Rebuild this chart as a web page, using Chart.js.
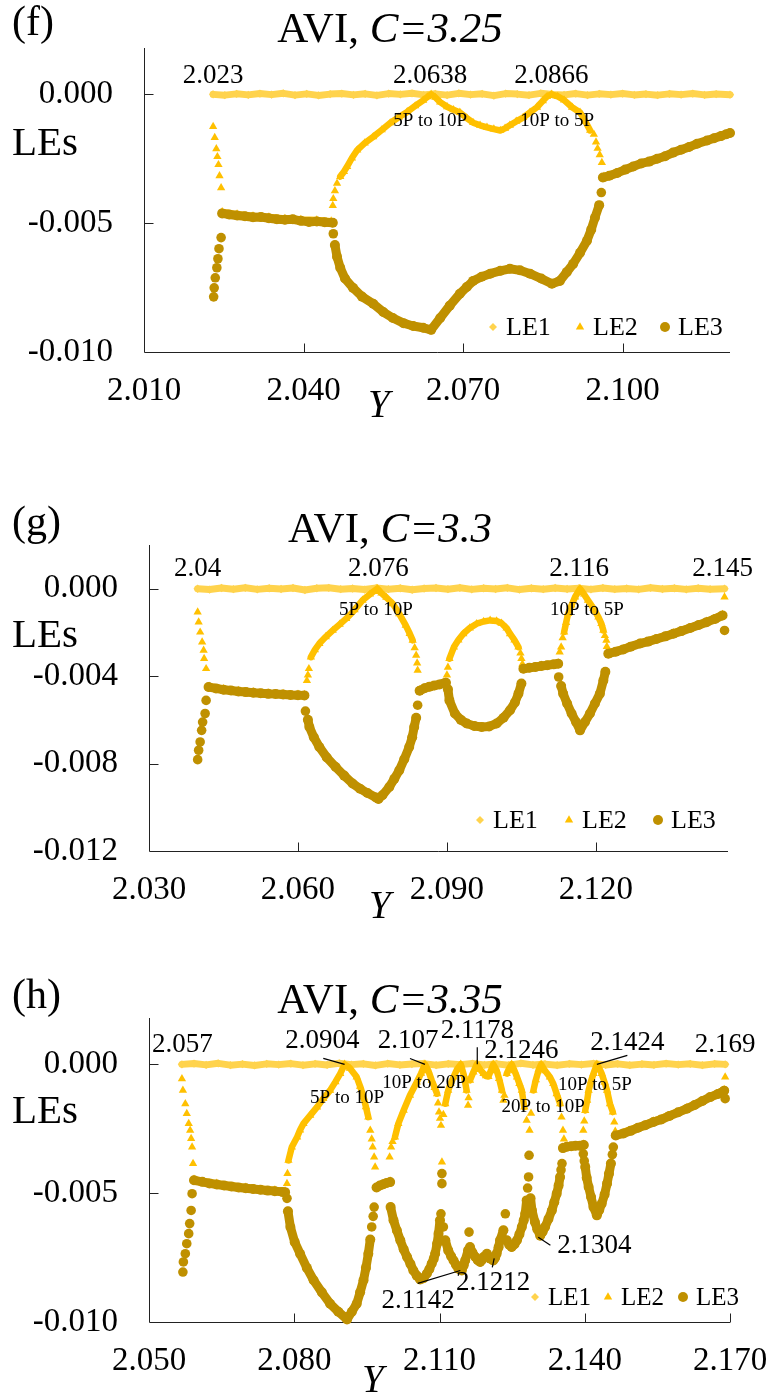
<!DOCTYPE html>
<html>
<head>
<meta charset="utf-8">
<script src="https://cdn.jsdelivr.net/npm/chart.js@4.4.0/dist/chart.umd.min.js"></script>
<style>
  html, body { margin: 0; padding: 0; background: #fff; }
  .panel { position: absolute; left: 0; width: 773px; height: 465px; }
  canvas { display: block; }
</style>
</head>
<body>
<div class="panel" style="top:0px"><canvas id="chartF" width="773" height="465"></canvas></div>
<div class="panel" style="top:465px"><canvas id="chartG" width="773" height="465"></canvas></div>
<div class="panel" style="top:930px"><canvas id="chartH" width="773" height="465"></canvas></div>
<script>
// ---- tick values ----
const fXTicks = [2.010, 2.040, 2.070, 2.100];
const fYTicks = [-0.010, -0.005, 0.000];
const gXTicks = [2.030, 2.060, 2.090, 2.120];
const gYTicks = [-0.012, -0.008, -0.004, 0.000];
const hXTicks = [2.050, 2.080, 2.110, 2.140, 2.170];
const hYTicks = [-0.010, -0.005, 0.000];

// ---- panel (f), C=3.25 : [Y, LE] ; null = break in the line ----
const fLE1 = [[2.0230,0.00000],[2.0252,-0.00003],[2.0274,0.00002],[2.0296,-0.00002],[2.0318,0.00003],[2.0340,-0.00001],[2.0362,0.00004],[2.0384,-0.00003],[2.0406,0.00002],[2.0428,-0.00004],[2.0450,0.00001],[2.0472,0.00003],[2.0494,-0.00002],[2.0516,0.00002],[2.0538,-0.00004],[2.0560,0.00003],[2.0582,0.00000],[2.0604,0.00004],[2.0626,-0.00002],[2.0648,0.00002],[2.0670,-0.00003],[2.0692,0.00004],[2.0714,-0.00001],[2.0736,0.00002],[2.0758,-0.00005],[2.0780,0.00003],[2.0802,0.00001],[2.0824,-0.00003],[2.0846,0.00004],[2.0868,0.00000],[2.0890,-0.00002],[2.0912,0.00003],[2.0934,-0.00003],[2.0956,0.00002],[2.0978,-0.00001],[2.1000,0.00003],[2.1022,-0.00002],[2.1044,0.00001],[2.1066,-0.00003],[2.1088,0.00002],[2.1110,-0.00001],[2.1132,0.00003],[2.1154,-0.00002],[2.1176,0.00001],[2.1202,-0.00001]];
const fLE2 = [
  [2.0247,-0.00456],[2.0275,-0.00465],[2.0305,-0.00472],[2.0335,-0.00476],[2.0365,-0.00482],[2.0395,-0.00486],[2.0425,-0.00488],[2.0452,-0.00492], null,
  [2.0469,-0.00319],[2.0476,-0.00300],[2.0482,-0.00280],[2.0491,-0.00247],[2.0501,-0.00216],[2.0515,-0.00189],[2.0531,-0.00165],[2.0547,-0.00138],[2.0563,-0.00111],[2.0579,-0.00089],[2.0595,-0.00068],[2.0610,-0.00045],[2.0625,-0.00023],[2.0633,-0.00010],[2.0640,0.00000],
  [2.0648,-0.00012],[2.0657,-0.00030],[2.0670,-0.00048],[2.0682,-0.00060],[2.0694,-0.00070],[2.0707,-0.00092],[2.0719,-0.00110],[2.0732,-0.00120],[2.0745,-0.00128],[2.0758,-0.00135],[2.0770,-0.00140],[2.0779,-0.00132],[2.0788,-0.00120],[2.0800,-0.00105],[2.0813,-0.00090],[2.0826,-0.00070],[2.0839,-0.00050],[2.0850,-0.00025],[2.0858,-0.00008],[2.0866,0.00000],[2.0878,-0.00008],[2.0890,-0.00022],[2.0905,-0.00050],[2.0920,-0.00070],[2.0930,-0.00105],[2.0939,-0.00140], null,
  [2.0965,-0.00318],[2.1050,-0.00261],[2.1125,-0.00204],[2.1202,-0.00150]
];
const fLE2Sparse = [[2.0230,-0.00125],[2.0233,-0.00168],[2.0236,-0.00211],[2.0238,-0.00242],[2.0240,-0.00273],[2.0242,-0.00316],[2.0245,-0.00363],[2.0455,-0.00432],[2.0456,-0.00405],[2.0459,-0.00374],[2.0463,-0.00345],[2.0946,-0.00155],[2.0950,-0.00185],[2.0953,-0.00210],[2.0957,-0.00235],[2.0961,-0.00265]];
const fLE3 = [
  [2.0247,-0.00462],[2.0260,-0.00466],[2.0275,-0.00470],[2.0290,-0.00473],[2.0305,-0.00477],[2.0320,-0.00476],[2.0335,-0.00481],[2.0350,-0.00485],[2.0365,-0.00487],[2.0380,-0.00485],[2.0395,-0.00491],[2.0410,-0.00495],[2.0425,-0.00493],[2.0440,-0.00496],[2.0455,-0.00498], null,
  [2.0459,-0.00585],[2.0463,-0.00630],[2.0469,-0.00673],[2.0478,-0.00715],[2.0493,-0.00751],[2.0510,-0.00785],[2.0531,-0.00813],[2.0550,-0.00845],[2.0568,-0.00868],[2.0588,-0.00888],[2.0606,-0.00899],[2.0625,-0.00906],[2.0640,-0.00914],
  [2.0657,-0.00868],[2.0675,-0.00820],[2.0694,-0.00774],[2.0707,-0.00748],[2.0719,-0.00724],[2.0735,-0.00708],[2.0751,-0.00696],[2.0770,-0.00685],[2.0788,-0.00677],[2.0807,-0.00683],[2.0826,-0.00696],[2.0847,-0.00715],[2.0867,-0.00735],[2.0882,-0.00724],[2.0895,-0.00690],[2.0907,-0.00658],[2.0920,-0.00615],[2.0933,-0.00568],[2.0941,-0.00525],[2.0948,-0.00479],[2.0956,-0.00430], null,
  [2.0963,-0.00323],[2.0975,-0.00316],[2.0990,-0.00305],[2.1005,-0.00292],[2.1020,-0.00280],[2.1035,-0.00268],[2.1050,-0.00261],[2.1065,-0.00250],[2.1080,-0.00240],[2.1095,-0.00226],[2.1110,-0.00215],[2.1125,-0.00204],[2.1140,-0.00192],[2.1159,-0.00179],[2.1172,-0.00170],[2.1185,-0.00162],[2.1195,-0.00155],[2.1202,-0.00150]
];
const fLE3Sparse = [[2.0231,-0.00786],[2.0232,-0.00751],[2.0234,-0.00712],[2.0237,-0.00673],[2.0239,-0.00638],[2.0241,-0.00599],[2.0245,-0.00556],[2.0456,-0.00541],[2.0960,-0.00381]];

// ---- panel (g), C=3.3 ----
const gLE1 = [[2.0398,0.00000],[2.0422,-0.00004],[2.0446,0.00003],[2.0470,-0.00002],[2.0494,0.00004],[2.0518,-0.00003],[2.0542,0.00002],[2.0566,-0.00001],[2.0590,0.00003],[2.0614,-0.00006],[2.0638,0.00002],[2.0662,0.00004],[2.0686,-0.00002],[2.0710,0.00001],[2.0734,-0.00004],[2.0758,0.00003],[2.0782,-0.00002],[2.0806,0.00002],[2.0830,-0.00005],[2.0854,0.00001],[2.0878,0.00003],[2.0902,-0.00002],[2.0926,0.00004],[2.0950,-0.00003],[2.0974,0.00002],[2.0998,-0.00001],[2.1022,0.00004],[2.1046,-0.00004],[2.1070,0.00002],[2.1094,-0.00002],[2.1118,0.00003],[2.1142,-0.00001],[2.1166,0.00002],[2.1190,-0.00003],[2.1214,0.00003],[2.1238,-0.00002],[2.1262,0.00001],[2.1286,-0.00003],[2.1310,0.00004],[2.1334,-0.00001],[2.1358,0.00002],[2.1382,-0.00003],[2.1406,0.00002],[2.1430,-0.00002],[2.1459,0.00000]];
const gLE2 = [
  [2.0421,-0.00446],[2.0450,-0.00458],[2.0480,-0.00466],[2.0510,-0.00472],[2.0540,-0.00477],[2.0570,-0.00480],[2.0600,-0.00483],[2.0613,-0.00484], null,
  [2.0626,-0.00313],[2.0634,-0.00280],[2.0643,-0.00251],[2.0656,-0.00220],[2.0670,-0.00191],[2.0684,-0.00163],[2.0697,-0.00137],[2.0714,-0.00097],[2.0730,-0.00053],[2.0745,-0.00025],[2.0760,0.00000],[2.0768,-0.00020],[2.0778,-0.00040],[2.0791,-0.00069],[2.0804,-0.00115],[2.0817,-0.00168],[2.0825,-0.00205],[2.0831,-0.00236], null,
  [2.0845,-0.00463],[2.0870,-0.00442],[2.0898,-0.00426], null,
  [2.0905,-0.00320],[2.0914,-0.00267],[2.0923,-0.00235],[2.0933,-0.00206],[2.0946,-0.00180],[2.0960,-0.00160],[2.0974,-0.00150],[2.0987,-0.00145],[2.1000,-0.00148],[2.1010,-0.00158],[2.1020,-0.00180],[2.1027,-0.00206],[2.1036,-0.00235],[2.1044,-0.00267], null,
  [2.1054,-0.00362],[2.1090,-0.00350],[2.1124,-0.00339], null,
  [2.1136,-0.00198],[2.1140,-0.00155],[2.1144,-0.00114],[2.1151,-0.00075],[2.1158,-0.00038],[2.1168,0.00000],[2.1176,-0.00025],[2.1184,-0.00053],[2.1195,-0.00090],[2.1205,-0.00130],[2.1211,-0.00160],[2.1215,-0.00191], null,
  [2.1225,-0.00293],[2.1289,-0.00247],[2.1356,-0.00202],[2.1423,-0.00149],[2.1455,-0.00118]
];
const gLE2Sparse = [[2.0398,-0.00107],[2.0400,-0.00153],[2.0403,-0.00199],[2.0407,-0.00244],[2.0410,-0.00282],[2.0411,-0.00320],[2.0415,-0.00366],[2.0618,-0.00420],[2.0620,-0.00395],[2.0622,-0.00366],[2.0835,-0.00270],[2.0838,-0.00305],[2.0840,-0.00340],[2.0841,-0.00373],[2.0900,-0.00395],[2.0902,-0.00360],[2.1048,-0.00295],[2.1050,-0.00320],[2.1052,-0.00345],[2.1127,-0.00290],[2.1130,-0.00267],[2.1133,-0.00225],[2.1218,-0.00215],[2.1221,-0.00236],[2.1222,-0.00265],[2.1459,-0.00038]];
const gLE3 = [
  [2.0420,-0.00450],[2.0435,-0.00456],[2.0450,-0.00462],[2.0465,-0.00466],[2.0480,-0.00470],[2.0495,-0.00473],[2.0510,-0.00476],[2.0525,-0.00478],[2.0540,-0.00481],[2.0555,-0.00482],[2.0570,-0.00484],[2.0585,-0.00486],[2.0600,-0.00487],[2.0613,-0.00488], null,
  [2.0620,-0.00600],[2.0623,-0.00633],[2.0632,-0.00680],[2.0643,-0.00724],[2.0658,-0.00772],[2.0676,-0.00816],[2.0693,-0.00855],[2.0710,-0.00891],[2.0725,-0.00915],[2.0740,-0.00935],[2.0757,-0.00955],[2.0762,-0.00962],[2.0770,-0.00945],[2.0784,-0.00907],[2.0794,-0.00870],[2.0804,-0.00831],[2.0814,-0.00780],[2.0824,-0.00724],[2.0830,-0.00680],[2.0834,-0.00633],[2.0838,-0.00590], null,
  [2.0845,-0.00467],[2.0855,-0.00455],[2.0865,-0.00448],[2.0875,-0.00443],[2.0885,-0.00438],[2.0895,-0.00432],[2.0898,-0.00430], null,
  [2.0902,-0.00460],[2.0905,-0.00511],[2.0916,-0.00571],[2.0928,-0.00600],[2.0940,-0.00617],[2.0955,-0.00628],[2.0970,-0.00633],[2.0985,-0.00630],[2.1000,-0.00617],[2.1014,-0.00590],[2.1027,-0.00556],[2.1037,-0.00520],[2.1044,-0.00480],[2.1050,-0.00434], null,
  [2.1054,-0.00366],[2.1066,-0.00362],[2.1078,-0.00358],[2.1090,-0.00354],[2.1102,-0.00350],[2.1115,-0.00346],[2.1124,-0.00343], null,
  [2.1130,-0.00445],[2.1134,-0.00480],[2.1142,-0.00525],[2.1151,-0.00571],[2.1160,-0.00610],[2.1168,-0.00648],[2.1178,-0.00610],[2.1188,-0.00571],[2.1198,-0.00525],[2.1208,-0.00480],[2.1215,-0.00420],[2.1219,-0.00380], null,
  [2.1225,-0.00297],[2.1240,-0.00288],[2.1255,-0.00278],[2.1270,-0.00265],[2.1289,-0.00251],[2.1305,-0.00242],[2.1322,-0.00230],[2.1340,-0.00218],[2.1356,-0.00206],[2.1372,-0.00194],[2.1390,-0.00180],[2.1407,-0.00166],[2.1423,-0.00153],[2.1440,-0.00138],[2.1455,-0.00122]
];
const gLE3Sparse = [[2.0398,-0.00782],[2.0400,-0.00739],[2.0403,-0.00701],[2.0406,-0.00648],[2.0408,-0.00610],[2.0413,-0.00571],[2.0415,-0.00511],[2.0615,-0.00560],[2.0841,-0.00533],[2.1125,-0.00404],[2.1459,-0.00191]];

// ---- panel (h), C=3.35 ----
const hLE1 = [[2.0568,0.00000],[2.0593,0.00003],[2.0618,-0.00002],[2.0643,0.00004],[2.0668,-0.00003],[2.0693,0.00001],[2.0718,-0.00004],[2.0743,0.00002],[2.0768,-0.00001],[2.0793,0.00003],[2.0818,-0.00003],[2.0843,0.00002],[2.0868,-0.00002],[2.0893,0.00004],[2.0918,-0.00001],[2.0943,0.00002],[2.0968,-0.00004],[2.0993,0.00003],[2.1018,-0.00002],[2.1043,0.00001],[2.1068,0.00003],[2.1093,-0.00003],[2.1118,0.00002],[2.1143,-0.00001],[2.1168,0.00003],[2.1193,-0.00002],[2.1218,0.00002],[2.1243,-0.00003],[2.1268,0.00004],[2.1293,-0.00002],[2.1318,0.00001],[2.1343,-0.00003],[2.1368,0.00002],[2.1393,-0.00001],[2.1418,0.00003],[2.1443,-0.00002],[2.1468,0.00002],[2.1493,-0.00003],[2.1518,0.00001],[2.1543,-0.00002],[2.1568,0.00003],[2.1593,-0.00001],[2.1618,0.00002],[2.1643,-0.00003],[2.1668,0.00002],[2.1690,0.00000]];
const hLE2 = [
  [2.0593,-0.00446],[2.0640,-0.00462],[2.0700,-0.00477],[2.0760,-0.00488],[2.0781,-0.00492], null,
  [2.0788,-0.00373],[2.0795,-0.00321],[2.0806,-0.00282],[2.0812,-0.00255],[2.0819,-0.00230],[2.0833,-0.00198],[2.0847,-0.00166],[2.0860,-0.00133],[2.0874,-0.00101],[2.0885,-0.00068],[2.0895,-0.00036],[2.0904,0.00000],[2.0915,-0.00015],[2.0929,-0.00049],[2.0936,-0.00085],[2.0943,-0.00127],[2.0948,-0.00165],[2.0953,-0.00205], null,
  [2.0970,-0.00474],[2.0998,-0.00453], null,
  [2.1008,-0.00282],[2.1015,-0.00230],[2.1026,-0.00178],[2.1039,-0.00120],[2.1053,-0.00069],[2.1062,-0.00035],[2.1070,0.00000],[2.1077,-0.00025],[2.1084,-0.00062],[2.1090,-0.00090],[2.1095,-0.00114], null,
  [2.1112,-0.00153],[2.1118,-0.00101],[2.1123,-0.00075],[2.1129,-0.00049],[2.1136,-0.00020],[2.1144,0.00000],[2.1150,-0.00040],[2.1156,-0.00101], null,
  [2.1163,-0.00062],[2.1170,-0.00030],[2.1177,0.00000],[2.1184,-0.00020],[2.1191,-0.00036],[2.1196,-0.00045],[2.1201,-0.00047],[2.1206,-0.00025],[2.1211,0.00000],[2.1218,-0.00023],[2.1223,-0.00055],[2.1229,-0.00101], null,
  [2.1239,-0.00036],[2.1244,-0.00015],[2.1249,0.00000],[2.1255,-0.00025],[2.1260,-0.00049],[2.1265,-0.00075],[2.1270,-0.00101],[2.1275,-0.00166], null,
  [2.1294,-0.00101],[2.1299,-0.00060],[2.1305,-0.00020],[2.1310,0.00000],[2.1318,-0.00025],[2.1328,-0.00049],[2.1335,-0.00075],[2.1342,-0.00114],[2.1349,-0.00153], null,
  [2.1355,-0.00321],[2.1398,-0.00309], null,
  [2.1401,-0.00179],[2.1405,-0.00140],[2.1408,-0.00101],[2.1413,-0.00065],[2.1418,-0.00036],[2.1425,0.00000],[2.1430,-0.00015],[2.1435,-0.00036],[2.1441,-0.00070],[2.1446,-0.00101],[2.1452,-0.00153],[2.1458,-0.00185], null,
  [2.1464,-0.00272],[2.1542,-0.00220],[2.1611,-0.00168],[2.1688,-0.00098]
];
const hLE2Sparse = [[2.0568,-0.00056],[2.0570,-0.00101],[2.0575,-0.00153],[2.0578,-0.00191],[2.0582,-0.00230],[2.0585,-0.00256],[2.0587,-0.00288],[2.0589,-0.00321],[2.0591,-0.00385],[2.0785,-0.00463],[2.0786,-0.00424],[2.0957,-0.00256],[2.0960,-0.00290],[2.0962,-0.00321],[2.0965,-0.00360],[2.0967,-0.00399],[2.0997,-0.00360],[2.1000,-0.00321],[2.1003,-0.00300],[2.1097,-0.00150],[2.1099,-0.00185],[2.1101,-0.00210],[2.1103,-0.00237],[2.1105,-0.00379],[2.1108,-0.00195],[2.1159,-0.00159],[2.1160,-0.00130],[2.1232,-0.00140],[2.1234,-0.00120],[2.1280,-0.00217],[2.1284,-0.00353],[2.1286,-0.00256],[2.1289,-0.00190],[2.1352,-0.00205],[2.1355,-0.00256],[2.1357,-0.00290],[2.1397,-0.00256],[2.1399,-0.00220],[2.1461,-0.00224],[2.1463,-0.00260],[2.1690,-0.00049]];
const hLE3 = [
  [2.0593,-0.00450],[2.0610,-0.00456],[2.0625,-0.00462],[2.0640,-0.00466],[2.0655,-0.00470],[2.0670,-0.00474],[2.0685,-0.00478],[2.0700,-0.00481],[2.0715,-0.00484],[2.0730,-0.00487],[2.0745,-0.00490],[2.0760,-0.00492],[2.0775,-0.00495],[2.0781,-0.00496], null,
  [2.0787,-0.00570],[2.0792,-0.00631],[2.0801,-0.00690],[2.0812,-0.00735],[2.0826,-0.00790],[2.0840,-0.00838],[2.0857,-0.00885],[2.0874,-0.00929],[2.0891,-0.00960],[2.0909,-0.00990],[2.0919,-0.00960],[2.0929,-0.00929],[2.0936,-0.00885],[2.0943,-0.00838],[2.0948,-0.00790],[2.0953,-0.00735],[2.0957,-0.00680], null,
  [2.0970,-0.00478],[2.0977,-0.00470],[2.0984,-0.00465],[2.0991,-0.00460],[2.0998,-0.00457], null,
  [2.0999,-0.00554],[2.1005,-0.00605],[2.1012,-0.00645],[2.1019,-0.00683],[2.1026,-0.00718],[2.1033,-0.00748],[2.1040,-0.00775],[2.1046,-0.00800],[2.1053,-0.00820],[2.1060,-0.00835],[2.1067,-0.00830],[2.1074,-0.00812],[2.1079,-0.00795],[2.1084,-0.00773],[2.1088,-0.00755],[2.1091,-0.00735],[2.1095,-0.00696],[2.1098,-0.00657],[2.1101,-0.00605], null,
  [2.1112,-0.00683],[2.1118,-0.00722],[2.1124,-0.00745],[2.1129,-0.00761],[2.1134,-0.00778],[2.1139,-0.00793],[2.1146,-0.00800],[2.1150,-0.00780],[2.1153,-0.00761],[2.1159,-0.00722], null,
  [2.1163,-0.00709],[2.1168,-0.00730],[2.1174,-0.00748],[2.1179,-0.00760],[2.1184,-0.00767],[2.1188,-0.00758],[2.1191,-0.00748],[2.1198,-0.00735],[2.1205,-0.00754],[2.1211,-0.00761],[2.1215,-0.00750],[2.1218,-0.00735],[2.1222,-0.00710],[2.1225,-0.00683],[2.1232,-0.00644], null,
  [2.1239,-0.00683],[2.1244,-0.00700],[2.1249,-0.00709],[2.1255,-0.00698],[2.1260,-0.00683],[2.1265,-0.00660],[2.1270,-0.00631],[2.1274,-0.00605],[2.1277,-0.00580],[2.1280,-0.00528], null,
  [2.1288,-0.00520],[2.1291,-0.00567],[2.1297,-0.00612],[2.1302,-0.00640],[2.1308,-0.00665],[2.1313,-0.00650],[2.1318,-0.00631],[2.1325,-0.00600],[2.1332,-0.00567],[2.1337,-0.00535],[2.1342,-0.00502],[2.1346,-0.00470],[2.1349,-0.00437], null,
  [2.1355,-0.00325],[2.1363,-0.00320],[2.1372,-0.00318],[2.1381,-0.00316],[2.1390,-0.00316],[2.1398,-0.00313], null,
  [2.1401,-0.00398],[2.1404,-0.00440],[2.1408,-0.00476],[2.1413,-0.00515],[2.1418,-0.00554],[2.1425,-0.00586],[2.1430,-0.00565],[2.1435,-0.00541],[2.1441,-0.00505],[2.1446,-0.00463],[2.1450,-0.00425],[2.1454,-0.00385], null,
  [2.1464,-0.00276],[2.1480,-0.00268],[2.1495,-0.00258],[2.1510,-0.00246],[2.1525,-0.00236],[2.1542,-0.00224],[2.1558,-0.00214],[2.1575,-0.00200],[2.1593,-0.00186],[2.1611,-0.00172],[2.1627,-0.00158],[2.1643,-0.00142],[2.1659,-0.00127],[2.1675,-0.00115],[2.1688,-0.00102]
];
const hLE3Sparse = [[2.0570,-0.00806],[2.0571,-0.00767],[2.0575,-0.00735],[2.0578,-0.00696],[2.0582,-0.00657],[2.0584,-0.00618],[2.0587,-0.00567],[2.0589,-0.00502],[2.0785,-0.00520],[2.0960,-0.00631],[2.0963,-0.00590],[2.0965,-0.00554],[2.1103,-0.00580],[2.1105,-0.00463],[2.1105,-0.00424],[2.1108,-0.00631],[2.1161,-0.00651],[2.1236,-0.00580],[2.1282,-0.00480],[2.1284,-0.00437],[2.1285,-0.00353],[2.1351,-0.00410],[2.1353,-0.00385],[2.1397,-0.00347],[2.1399,-0.00375],[2.1457,-0.00350],[2.1459,-0.00321],[2.1690,-0.00133]];

// ---- labels in data coordinates: [text, Y, LE, kind] ----
const fNotes = [['2.023',2.0230,0.00043,'v'],['2.0638',2.0638,0.00043,'v'],['2.0866',2.0866,0.00043,'v'],['5P to 10P',2.0638,-0.00121,'t'],['10P to 5P',2.0877,-0.00121,'t']];
const gNotes = [['2.04',2.0398,0.00059,'v'],['2.076',2.0762,0.00059,'v'],['2.116',2.1166,0.00059,'v'],['2.145',2.1455,0.00059,'v'],['5P to 10P',2.0757,-0.00122,'t'],['10P to 5P',2.1182,-0.00122,'t']];
const hNotes = [['2.057',2.0569,0.00047,'v'],['2.0904',2.0858,0.00062,'v'],['2.107',2.1035,0.00062,'v'],['2.1178',2.1178,0.00101,'v'],['2.1246',2.1269,0.00023,'v'],['2.1424',2.1488,0.00054,'v'],['2.169',2.1690,0.00047,'v'],
  ['5P to 10P',2.0909,-0.00151,'t'],['10P to 20P',2.1068,-0.00093,'t'],['20P to 10P',2.1314,-0.00186,'t'],['10P to 5P',2.1421,-0.00101,'t'],
  ['2.1142',2.1056,-0.00947,'v'],['2.1212',2.1211,-0.00877,'v'],['2.1304',2.1343,-0.00733,'vl']];
// leader lines: [Y1, LE1, Y2, LE2]
const hLeaders = [[2.0860,0.00023,2.0904,0.00000],[2.1039,0.00023,2.1070,0.00000],[2.1178,0.00066,2.1178,0.00000],[2.1488,0.00035,2.1425,0.00000],[2.1055,-0.00850,2.1143,-0.00800],[2.1209,-0.00788,2.1213,-0.00753],[2.1329,-0.00702,2.1304,-0.00671]];

const COL1 = '#FFD34D', COL2 = '#FFC000', COL3 = '#BF9000';
const SERIF = '"Liberation Serif", "Times New Roman", serif';

function pts(arr) {
  const out = [];
  let lastX = null;
  arr.forEach(p => {
    if (p === null) out.push({x: lastX, y: null});
    else { lastX = p[0]; out.push({x: p[0], y: p[1]}); }
  });
  return out;
}

function marker(ctx, kind, x, y) {
  ctx.beginPath();
  if (kind === 'diamond') {
    const r = 4;
    ctx.moveTo(x, y - r); ctx.lineTo(x + r, y); ctx.lineTo(x, y + r); ctx.lineTo(x - r, y);
  } else if (kind === 'triangle') {
    const r = 4.8;
    ctx.moveTo(x, y - r); ctx.lineTo(x + r * 0.87, y + r * 0.5); ctx.lineTo(x - r * 0.87, y + r * 0.5);
  } else {
    ctx.arc(x, y, 5, 0, Math.PI * 2);
  }
  ctx.closePath();
  ctx.fill();
}

// axes, inner tick marks and all the text that sits on the canvas
function decor(spec) {
  return {
    id: 'decor',
    beforeDraw(chart) {
      const ctx = chart.ctx;
      ctx.save(); ctx.fillStyle = '#fff'; ctx.fillRect(0, 0, chart.width, chart.height); ctx.restore();
    },
    beforeDatasetsDraw(chart) {
      const {ctx, chartArea: a, scales: {x, y}} = chart;
      const left = Math.round(a.left) + 0.5, bottom = Math.round(a.bottom) + 0.5;
      ctx.save();
      ctx.strokeStyle = '#222'; ctx.lineWidth = 1;
      ctx.beginPath();
      ctx.moveTo(left, Math.round(a.top)); ctx.lineTo(left, bottom); ctx.lineTo(Math.round(a.right), bottom);
      x.ticks.forEach(t => {
        const px = Math.round(x.getPixelForValue(t.value)) + 0.5;
        if (px > left + 2) { ctx.moveTo(px, bottom); ctx.lineTo(px, bottom - 9); }
      });
      y.ticks.forEach(t => {
        const py = Math.round(y.getPixelForValue(t.value)) + 0.5;
        if (py < bottom - 2) { ctx.moveTo(left, py); ctx.lineTo(left + 9, py); }
      });
      ctx.stroke();
      ctx.restore();
    },
    afterDraw(chart) {
      const {ctx, scales: {x, y}} = chart;
      ctx.save();
      ctx.fillStyle = '#000'; ctx.strokeStyle = '#000';
      ctx.textBaseline = 'alphabetic';
      // panel tag and title
      ctx.textAlign = 'left';
      ctx.font = '42px ' + SERIF;
      ctx.fillText(spec.tag, 12, spec.tagBase);
      const a = 'AVI, ', b = 'C=' + spec.c;
      ctx.font = '43px ' + SERIF;
      const wa = ctx.measureText(a).width;
      ctx.font = 'italic 43px ' + SERIF;
      const wb = ctx.measureText(b).width;
      const x0 = 390 - (wa + wb) / 2;
      ctx.font = '43px ' + SERIF;
      ctx.fillText(a, x0, spec.titleBase);
      ctx.font = 'italic 43px ' + SERIF;
      ctx.fillText(b, x0 + wa, spec.titleBase);
      // axis titles
      ctx.font = '41px ' + SERIF;
      ctx.fillText('LEs', 12, spec.lesBase);
      ctx.font = 'italic 39px ' + SERIF;
      ctx.fillText('Y', spec.yTitle[0], spec.yTitle[1]);
      // value and transition labels
      spec.notes.forEach(n => {
        const px = x.getPixelForValue(n[1]), py = y.getPixelForValue(n[2]);
        ctx.font = (n[3] === 't' ? '19px ' : '27px ') + SERIF;
        ctx.textAlign = n[3] === 'vl' ? 'left' : 'center';
        ctx.fillText(n[0], px, py);
      });
      // leader lines
      ctx.lineWidth = 1.2;
      (spec.leaders || []).forEach(l => {
        ctx.beginPath();
        ctx.moveTo(x.getPixelForValue(l[0]), y.getPixelForValue(l[1]));
        ctx.lineTo(x.getPixelForValue(l[2]), y.getPixelForValue(l[3]));
        ctx.stroke();
      });
      // legend
      const lg = spec.legend;
      const items = [['LE1', COL1, 'diamond'], ['LE2', COL2, 'triangle'], ['LE3', COL3, 'circle']];
      ctx.textAlign = 'left';
      ctx.font = lg.size + 'px ' + SERIF;
      items.forEach((it, i) => {
        ctx.fillStyle = it[1];
        marker(ctx, it[2], lg.xs[i], lg.my);
        ctx.fillStyle = '#000';
        ctx.fillText(it[0], lg.xs[i] + 13, lg.base);
      });
      ctx.restore();
    }
  };
}

function makeChart(spec) {
  const W = 773, H = 465;
  const tickFont = {family: SERIF, size: 33};
  return new Chart(spec.id, {
    type: 'scatter',
    data: {
      datasets: [
        {label: 'LE3', data: pts(spec.le3s), showLine: false, pointStyle: 'circle', pointRadius: 4.8, pointBorderWidth: 0, backgroundColor: COL3, clip: false},
        {label: 'LE3', data: pts(spec.le3), showLine: true, borderColor: COL3, borderWidth: 9, borderJoinStyle: 'round', borderCapStyle: 'round', pointStyle: 'circle', pointRadius: 5, pointBorderWidth: 0, backgroundColor: COL3, clip: false},
        {label: 'LE2', data: pts(spec.le2s), showLine: false, pointStyle: 'triangle', pointRadius: 4.8, pointBorderWidth: 0, backgroundColor: COL2, clip: false},
        {label: 'LE2', data: pts(spec.le2), showLine: true, borderColor: COL2, borderWidth: 6.5, borderJoinStyle: 'round', borderCapStyle: 'round', pointStyle: 'triangle', pointRadius: 4.8, pointBorderWidth: 0, backgroundColor: COL2, clip: false},
        {label: 'LE1', data: pts(spec.le1), showLine: true, borderColor: COL1, borderWidth: 7, borderJoinStyle: 'round', borderCapStyle: 'round', pointStyle: 'rectRot', pointRadius: 4.2, pointBorderWidth: 0, backgroundColor: COL1, clip: false}
      ]
    },
    options: {
      responsive: false,
      animation: false,
      events: [],
      layout: {padding: {left: 0, top: spec.area.top, right: W - spec.area.right, bottom: 0}},
      scales: {
        x: {
          type: 'linear', min: spec.xMin, max: spec.xMax,
          afterBuildTicks: s => { s.ticks = spec.xTicks.map(v => ({value: v})); },
          afterFit: s => { s.height = H - spec.area.bottom; s.paddingLeft = 0; s.paddingRight = 0; },
          grid: {display: false, drawTicks: false}, border: {display: false},
          ticks: {autoSkip: false, maxRotation: 0, minRotation: 0, padding: 20, color: '#000', font: tickFont, callback: v => v.toFixed(3)}
        },
        y: {
          type: 'linear', min: spec.yMin, max: spec.yMax,
          afterBuildTicks: s => { s.ticks = spec.yTicks.map(v => ({value: v})); },
          afterFit: s => { s.width = spec.area.left; s.paddingTop = 0; s.paddingBottom = 0; },
          grid: {display: false, drawTicks: false}, border: {display: false},
          ticks: {autoSkip: false, padding: 31, color: '#000', font: tickFont, callback: v => v.toFixed(3)}
        }
      },
      plugins: {legend: {display: false}, tooltip: {enabled: false}}
    },
    plugins: [decor(spec)]
  });
}

makeChart({
  id: 'chartF', tag: '(f)', c: '3.25',
  area: {left: 144, right: 730, top: 48, bottom: 352},
  xMin: 2.010, xMax: 2.1202, yMin: -0.010, yMax: 0.0018, xTicks: fXTicks, yTicks: fYTicks,
  le1: fLE1, le2: fLE2, le2s: fLE2Sparse, le3: fLE3, le3s: fLE3Sparse,
  tagBase: 35, titleBase: 42, lesBase: 155, yTitle: [368, 417],
  notes: fNotes, leaders: [],
  legend: {xs: [493, 580, 665], my: 327, base: 335, size: 26}
});
makeChart({
  id: 'chartG', tag: '(g)', c: '3.3',
  area: {left: 149, right: 728, top: 80, bottom: 386},
  xMin: 2.030, xMax: 2.1466, yMin: -0.012, yMax: 0.002, xTicks: gXTicks, yTicks: gYTicks,
  le1: gLE1, le2: gLE2, le2s: gLE2Sparse, le3: gLE3, le3s: gLE3Sparse,
  tagBase: 70, titleBase: 77, lesBase: 182, yTitle: [369, 453],
  notes: gNotes, leaders: [],
  legend: {xs: [480, 569, 658], my: 355, base: 363, size: 26}
});
makeChart({
  id: 'chartH', tag: '(h)', c: '3.35',
  area: {left: 149, right: 730, top: 88, bottom: 392},
  xMin: 2.050, xMax: 2.170, yMin: -0.010, yMax: 0.0018, xTicks: hXTicks, yTicks: hYTicks,
  le1: hLE1, le2: hLE2, le2s: hLE2Sparse, le3: hLE3, le3s: hLE3Sparse,
  tagBase: 78, titleBase: 83, lesBase: 193, yTitle: [362, 462],
  notes: hNotes, leaders: hLeaders,
  legend: {xs: [535, 608, 683], my: 367, base: 375, size: 25}
});
</script>
</body>
</html>
